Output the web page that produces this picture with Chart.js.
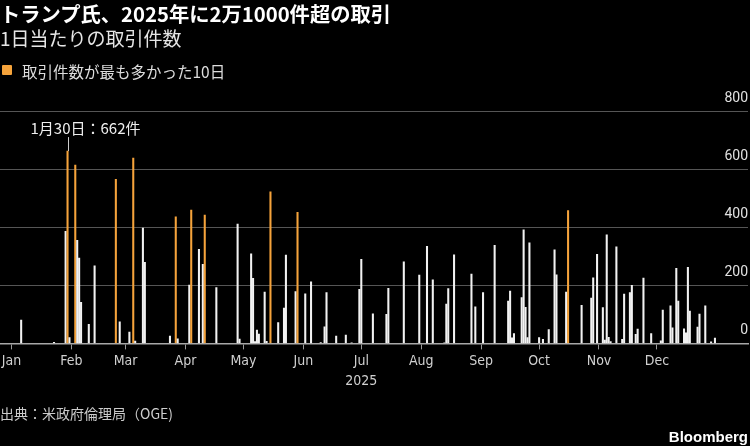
<!DOCTYPE html>
<html>
<head>
<meta charset="utf-8">
<script src="https://cdn.jsdelivr.net/npm/chart.js@4"></script>
<style>
  html, body { margin: 0; padding: 0; background: #000; }
  #wrap { position: relative; width: 750px; height: 446px; overflow: hidden; background: #000; }
  #chart { position: absolute; left: 0; top: 0; }
  .txt { position: absolute; font-family: "Noto Sans CJK JP", "Noto Sans", sans-serif; white-space: nowrap; }
  #title { left: 0; top: 0; line-height: 27px; font-size: 20.3px; font-weight: bold; color: #fff; }
  #subtitle { left: 0; top: 26px; line-height: 24px; font-size: 19px; color: #e6e6e6; }
  #legend { left: 22px; top: 60px; line-height: 22px; font-size: 15.5px; color: #ddd; }
  #legendBox { position: absolute; left: 2px; top: 65px; width: 10px; height: 10px; background: #f5a33b; border-radius: 1px; }
  #source { left: 0; top: 403px; line-height: 20px; font-size: 14px; color: #ccc; }
  #brand { right: 2px; top: 427px; line-height: 20px; font-size: 15px; font-weight: bold; color: #fff; font-family: "Liberation Sans", Arial, sans-serif; }
</style>
</head>
<body>
<div id="wrap">
  <canvas id="chart" width="750" height="446"></canvas>
  <div class="txt" id="title">トランプ氏、2025年に2万1000件超の取引</div>
  <div class="txt" id="subtitle">1日当たりの取引件数</div>
  <div id="legendBox"></div>
  <div class="txt" id="legend">取引件数が最も多かった10日</div>
  <div class="txt" id="source">出典：米政府倫理局（OGE)</div>
  <div class="txt" id="brand">Bloomberg</div>
</div>
<script>
// trading days with at least one reported transaction (2025)
var tradeDates = [
  '2025-01-06','2025-01-23','2025-01-29','2025-01-30','2025-01-31',
  '2025-02-03','2025-02-04','2025-02-05','2025-02-06','2025-02-10','2025-02-13','2025-02-24','2025-02-26',
  '2025-03-03','2025-03-05','2025-03-06','2025-03-10','2025-03-11','2025-03-24','2025-03-27','2025-03-28',
  '2025-04-03','2025-04-04','2025-04-08','2025-04-10','2025-04-11','2025-04-17','2025-04-28','2025-04-29',
  '2025-05-05','2025-05-06','2025-05-07','2025-05-08','2025-05-09','2025-05-12','2025-05-13','2025-05-15',
  '2025-05-19','2025-05-22','2025-05-23','2025-05-28','2025-05-29',
  '2025-06-02','2025-06-05','2025-06-10','2025-06-12','2025-06-13','2025-06-18','2025-06-23','2025-06-26','2025-06-30',
  '2025-07-01','2025-07-07','2025-07-14','2025-07-15','2025-07-23','2025-07-31',
  '2025-08-04','2025-08-07','2025-08-13','2025-08-14','2025-08-15','2025-08-18','2025-08-27','2025-08-29',
  '2025-09-02','2025-09-08','2025-09-15','2025-09-16','2025-09-17','2025-09-18','2025-09-22','2025-09-23',
  '2025-09-24','2025-09-25','2025-09-26',
  '2025-10-01','2025-10-03','2025-10-06','2025-10-09','2025-10-10','2025-10-15','2025-10-16','2025-10-23',
  '2025-10-28','2025-10-29','2025-10-31',
  '2025-11-03','2025-11-04','2025-11-05','2025-11-06','2025-11-07','2025-11-10','2025-11-13','2025-11-14',
  '2025-11-17','2025-11-18','2025-11-20','2025-11-21','2025-11-24','2025-11-28',
  '2025-12-03','2025-12-04','2025-12-08','2025-12-09','2025-12-11','2025-12-12','2025-12-15','2025-12-16',
  '2025-12-17','2025-12-18','2025-12-22','2025-12-23','2025-12-26','2025-12-29','2025-12-31'
];
var tradeCounts = [
  80, 4, 386, 662, 20,
  614, 355, 294, 141, 66, 267, 565, 74,
  39, 638, 8, 397, 279, 25, 436, 16,
  201, 459, 324, 272, 442, 192, 411, 15,
  308, 224, 6, 46, 32, 177, 7, 522,
  72, 122, 304, 178, 451,
  171, 212, 3, 57, 175, 25, 29, 2, 186,
  289, 102, 100, 190, 281, 235,
  334, 219, 2, 135, 189, 305, 239, 126,
  175, 338, 146, 180, 19, 34, 158, 391,
  124, 20, 346,
  20, 14, 48, 322, 236, 177, 457, 131,
  156, 226, 307,
  123, 11, 374, 21, 6, 332, 14, 170,
  175, 200, 31, 49, 225, 34,
  9, 115, 129, 54, 258, 146, 50, 36,
  262, 111, 56, 101, 129, 5, 18
];
var monthLabels = ['Jan','Feb','Mar','Apr','May','Jun','Jul','Aug','Sep','Oct','Nov','Dec'];
var yearLabel = '2025';
var yTicks = [0, 200, 400, 600, 800];

var ORANGE = '#f5a33b';
var WHITE = '#f2f2f2';

var yearStart = Date.UTC(2025, 0, 1);
function dayIndex(s) {
  var p = s.split('-');
  return Math.round((Date.UTC(+p[0], +p[1] - 1, +p[2]) - yearStart) / 86400000);
}
var monthStarts = monthLabels.map(function (m, i) {
  return Math.round((Date.UTC(2025, i, 1) - yearStart) / 86400000);
});

var points = tradeDates.map(function (d, i) { return { x: dayIndex(d), y: tradeCounts[i] }; });

// top 10 days by count
var topIdx = tradeCounts.map(function (v, i) { return i; })
  .sort(function (a, b) { return tradeCounts[b] - tradeCounts[a]; }).slice(0, 10);
var peak = topIdx[0];

var peakLabel = {
  id: 'peakLabel',
  afterDatasetsDraw: function (chart) {
    var c = chart.ctx, xs = chart.scales.x, ys = chart.scales.y;
    var px = Math.round(xs.getPixelForValue(points[peak].x)) + 0.5;
    var py = ys.getPixelForValue(points[peak].y);
    var p = tradeDates[peak].split('-');
    c.save();
    c.strokeStyle = '#cccccc';
    c.lineWidth = 1;
    c.beginPath();
    c.moveTo(px, py - 14);
    c.lineTo(px, py);
    c.stroke();
    c.fillStyle = '#eeeeee';
    c.font = '15px "Noto Sans CJK JP", sans-serif';
    c.textBaseline = 'middle';
    c.textAlign = 'left';
    c.fillText((+p[1]) + '月' + (+p[2]) + '日：' + tradeCounts[peak] + '件', px - 38, py - 23);
    c.restore();
  }
};

var ctx = document.getElementById('chart').getContext('2d');
var myChart = new Chart(ctx, {
  type: 'bar',
  data: {
    datasets: [{
      label: '取引件数',
      data: points,
      backgroundColor: function (c) { return topIdx.indexOf(c.dataIndex) >= 0 ? ORANGE : WHITE; },
      borderWidth: 0,
      barThickness: 1.4
    }]
  },
  options: {
    responsive: false,
    animation: false,
    layout: { padding: { top: 111, right: 2, bottom: 52, left: 0 } },
    plugins: { legend: { display: false }, tooltip: { enabled: false } },
    scales: {
      x: {
        type: 'linear',
        offset: false,
        min: -5.95,
        max: 381.1,
        afterBuildTicks: function (scale) {
          scale.ticks = monthStarts.map(function (v) { return { value: v }; });
        },
        afterFit: function (scale) {
          scale.paddingLeft = 0;
          scale.paddingRight = 0;
        },
        ticks: {
          autoSkip: false,
          maxRotation: 0,
          padding: 2,
          color: '#d0d0d0',
          font: { family: '"DejaVu Sans Condensed", "Liberation Sans Narrow", Roboto, sans-serif', size: 14, lineHeight: 1.45 },
          callback: function (v, i) { return i === 6 ? [monthLabels[i], yearLabel] : monthLabels[i]; }
        },
        grid: { offset: false, drawOnChartArea: false, drawTicks: true, tickLength: 6, color: '#9a9a9a' },
        border: { color: '#a8a8a8', width: 1.5 }
      },
      y: {
        position: 'right',
        min: 0,
        max: 800,
        afterBuildTicks: function (scale) {
          scale.ticks = yTicks.map(function (v) { return { value: v }; });
        },
        afterFit: function (scale) {
          scale.width = 0;
          scale.paddingTop = 0;
          scale.paddingBottom = 0;
        },
        ticks: {
          mirror: true,
          padding: 0,
          labelOffset: -13,
          color: '#e0e0e0',
          font: { family: 'Roboto, "Noto Sans", sans-serif', size: 14 }
        },
        grid: { color: '#555555', drawTicks: false },
        border: { display: false }
      }
    }
  },
  plugins: [peakLabel]
});
</script>
</body>
</html>
